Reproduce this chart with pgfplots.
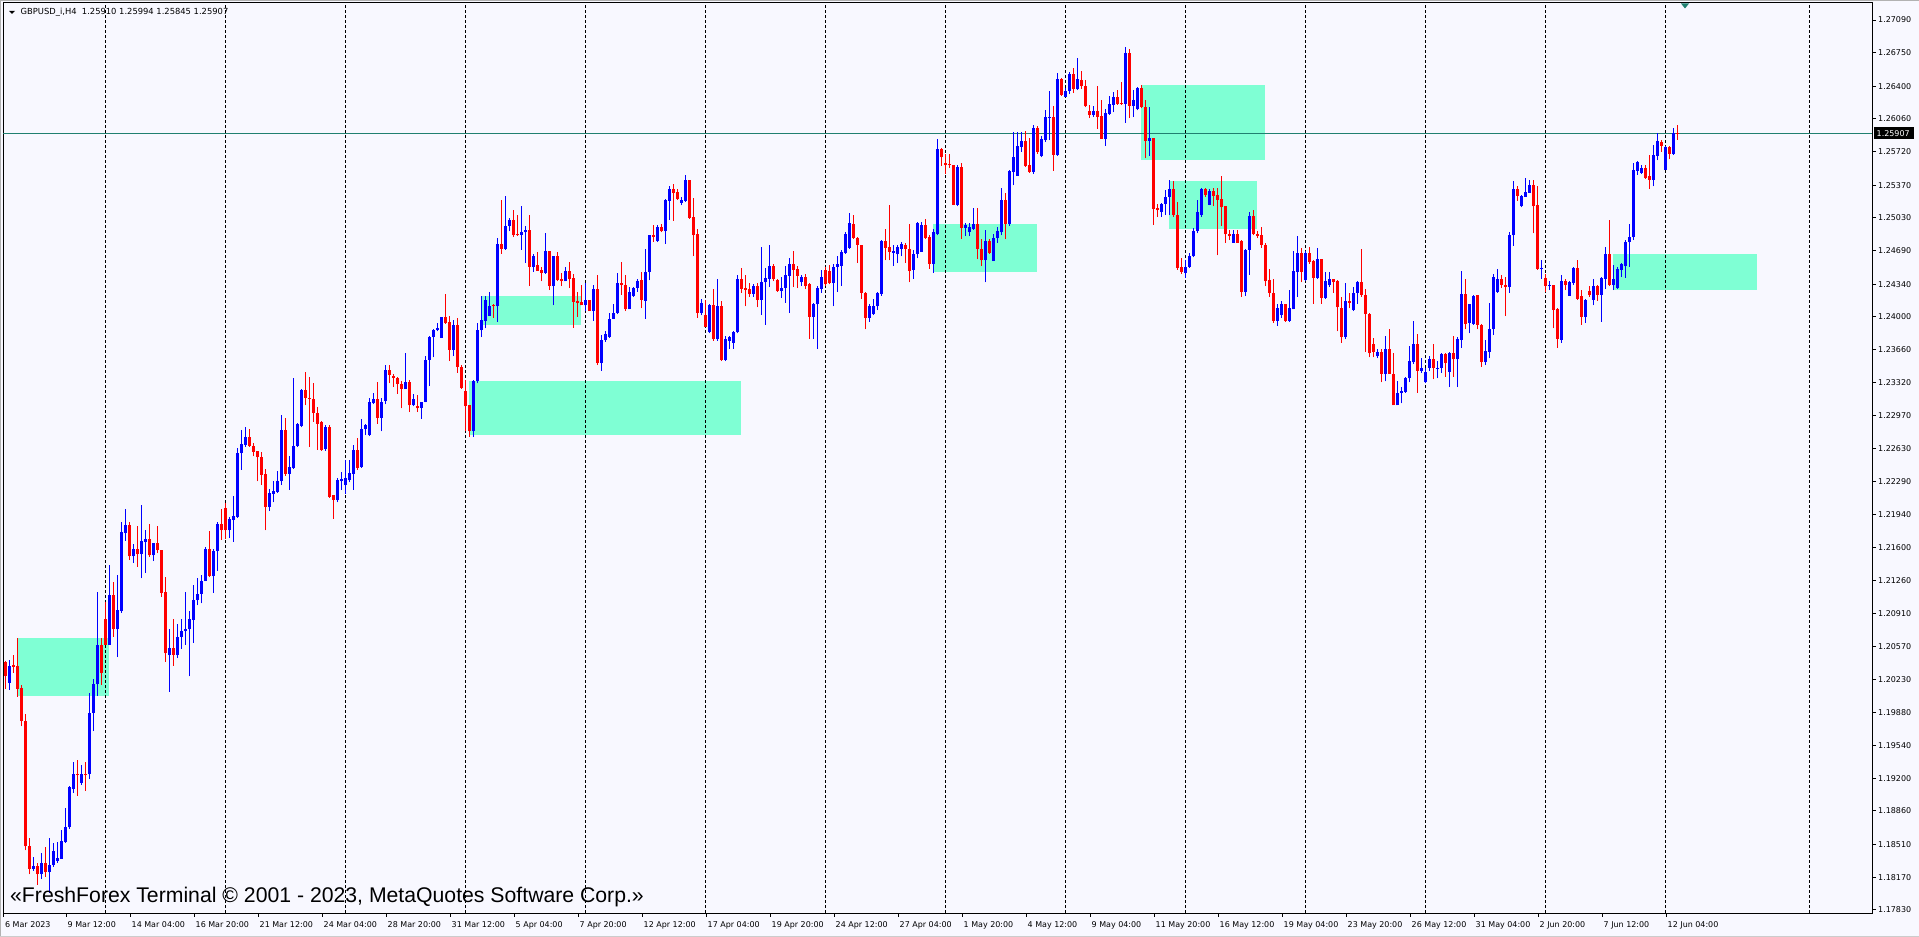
\documentclass[border=0pt]{standalone}
\usepackage{pgfplots}
\pgfplotsset{compat=1.18}
\usepackage{pgfplotstable}
\usepackage{fontspec}
\setmainfont{DejaVu Sans}
\newfontfamily\arialfont{Liberation Sans}
\definecolor{chartbg}{RGB}{248,248,255}
\definecolor{zone}{RGB}{127,255,212}
\definecolor{upc}{RGB}{0,0,255}
\definecolor{dnc}{RGB}{255,0,0}
\definecolor{pline}{RGB}{32,128,112}
\pgfplotstableread{
i o h l c
5 1.2041 1.2042 1.2013 1.2026
6 1.2019 1.2043 1.2012 1.2037
7 1.2038 1.2048 1.2030 1.2036
8 1.2037 1.2066 1.2005 1.2013
9 1.2014 1.2017 1.1974 1.1980
10 1.1980 1.1987 1.1845 1.1849
11 1.1849 1.1858 1.1820 1.1826
12 1.1826 1.1838 1.1824 1.1829
13 1.1829 1.1832 1.1809 1.1820
14 1.1820 1.1842 1.1815 1.1832
15 1.1832 1.1848 1.1817 1.1822
16 1.1822 1.1858 1.1801 1.1830
17 1.1830 1.1853 1.1828 1.1844
18 1.1834 1.1854 1.1832 1.1837
19 1.1836 1.1866 1.1836 1.1855
20 1.1854 1.1889 1.1853 1.1869
21 1.1869 1.1912 1.1867 1.1911
22 1.1909 1.1937 1.1905 1.1924
23 1.1924 1.1939 1.1902 1.1923
24 1.1915 1.1934 1.1913 1.1924
25 1.1924 1.1937 1.1907 1.1923
26 1.1924 1.2009 1.1919 1.1988
27 1.1988 1.2023 1.1969 1.2018
28 1.2018 1.2114 1.2006 1.2059
29 1.2059 1.2066 1.2017 1.2030
30 1.2086 1.2103 1.2059 1.2059
31 1.2059 1.2142 1.2059 1.2111
32 1.2111 1.2124 1.2067 1.2075
33 1.2075 1.2132 1.2046 1.2095
34 1.2094 1.2187 1.2092 1.2176
35 1.2175 1.2200 1.2167 1.2184
36 1.2184 1.2187 1.2147 1.2151
37 1.2151 1.2164 1.2144 1.2159
38 1.2159 1.2183 1.2140 1.2153
39 1.2153 1.2204 1.2128 1.2167
40 1.2166 1.2178 1.2134 1.2169
41 1.2169 1.2185 1.2150 1.2152
42 1.2152 1.2165 1.2146 1.2165
43 1.2165 1.2182 1.2154 1.2157
44 1.2157 1.2157 1.2109 1.2113
45 1.2114 1.2129 1.2041 1.2050
46 1.2048 1.2075 1.2010 1.2056
47 1.2056 1.2086 1.2037 1.2048
48 1.2048 1.2081 1.2045 1.2067
49 1.2067 1.2086 1.2055 1.2073
50 1.2073 1.2114 1.2059 1.2075
51 1.2075 1.2094 1.2026 1.2086
52 1.2085 1.2121 1.2061 1.2105
53 1.2105 1.2128 1.2100 1.2112
54 1.2112 1.2132 1.2102 1.2125
55 1.2125 1.2161 1.2125 1.2159
56 1.2159 1.2177 1.2129 1.2130
57 1.2130 1.2159 1.2113 1.2156
58 1.2156 1.2187 1.2136 1.2185
59 1.2185 1.2200 1.2168 1.2178
60 1.2201 1.2206 1.2169 1.2178
61 1.2178 1.2192 1.2170 1.2190
62 1.2189 1.2214 1.2166 1.2193
63 1.2192 1.2264 1.2191 1.2258
64 1.2258 1.2282 1.2241 1.2268
65 1.2267 1.2285 1.2265 1.2275
66 1.2275 1.2283 1.2265 1.2266
67 1.2266 1.2269 1.2255 1.2260
68 1.2261 1.2261 1.2229 1.2254
69 1.2254 1.2259 1.2225 1.2236
70 1.2237 1.2242 1.2178 1.2202
71 1.2202 1.2221 1.2198 1.2217
72 1.2216 1.2229 1.2207 1.2219
73 1.2218 1.2240 1.2217 1.2229
74 1.2229 1.2298 1.2225 1.2282
75 1.2282 1.2295 1.2235 1.2237
76 1.2237 1.2255 1.2220 1.2244
77 1.2243 1.2336 1.2242 1.2266
78 1.2266 1.2290 1.2265 1.2289
79 1.2287 1.2325 1.2285 1.2324
80 1.2324 1.2343 1.2308 1.2316
81 1.2316 1.2338 1.2265 1.2315
82 1.2315 1.2331 1.2291 1.2300
83 1.2300 1.2306 1.2262 1.2289
84 1.2291 1.2292 1.2261 1.2262
85 1.2263 1.2288 1.2261 1.2286
86 1.2286 1.2288 1.2212 1.2213
87 1.2215 1.2215 1.2190 1.2210
88 1.2210 1.2232 1.2207 1.2230
89 1.2229 1.2239 1.2220 1.2231
90 1.2225 1.2251 1.2216 1.2232
91 1.2230 1.2251 1.2228 1.2238
92 1.2237 1.2267 1.2220 1.2262
93 1.2262 1.2274 1.2241 1.2243
94 1.2244 1.2294 1.2243 1.2283
95 1.2283 1.2289 1.2277 1.2288
96 1.2277 1.2316 1.2276 1.2311
97 1.2310 1.2321 1.2309 1.2315
98 1.2315 1.2332 1.2289 1.2295
99 1.2295 1.2316 1.2281 1.2311
100 1.2313 1.2350 1.2309 1.2345
101 1.2345 1.2350 1.2331 1.2340
102 1.2339 1.2341 1.2327 1.2337
103 1.2337 1.2338 1.2320 1.2330
104 1.2330 1.2333 1.2305 1.2325
105 1.2325 1.2363 1.2325 1.2332
106 1.2332 1.2334 1.2301 1.2308
107 1.2308 1.2320 1.2307 1.2315
108 1.2307 1.2319 1.2301 1.2305
109 1.2305 1.2312 1.2294 1.2311
110 1.2312 1.2359 1.2311 1.2355
111 1.2355 1.2380 1.2328 1.2379
112 1.2379 1.2387 1.2358 1.2386
113 1.2386 1.2394 1.2385 1.2388
114 1.2378 1.2400 1.2378 1.2400
115 1.2400 1.2424 1.2393 1.2394
116 1.2395 1.2401 1.2354 1.2366
117 1.2366 1.2397 1.2359 1.2392
118 1.2392 1.2399 1.2342 1.2348
119 1.2348 1.2350 1.2325 1.2326
120 1.2323 1.2334 1.2281 1.2307
121 1.2308 1.2308 1.2275 1.2281
122 1.2281 1.2334 1.2275 1.2333
123 1.2333 1.2394 1.2331 1.2386
124 1.2386 1.2422 1.2379 1.2397
125 1.2396 1.2422 1.2388 1.2418
126 1.2401 1.2426 1.2401 1.2411
127 1.2412 1.2414 1.2399 1.2411
128 1.2411 1.2482 1.2395 1.2476
129 1.2476 1.2522 1.2466 1.2471
130 1.2471 1.2526 1.2470 1.2495
131 1.2495 1.2503 1.2489 1.2501
132 1.2501 1.2511 1.2483 1.2485
133 1.2486 1.2506 1.2484 1.2485
134 1.2485 1.2515 1.2470 1.2488
135 1.2488 1.2495 1.2456 1.2490
136 1.2490 1.2506 1.2432 1.2452
137 1.2452 1.2466 1.2447 1.2463
138 1.2454 1.2468 1.2448 1.2448
139 1.2449 1.2452 1.2437 1.2446
140 1.2446 1.2487 1.2445 1.2469
141 1.2469 1.2469 1.2428 1.2432
142 1.2432 1.2463 1.2412 1.2463
143 1.2463 1.2468 1.2437 1.2438
144 1.2439 1.2446 1.2432 1.2437
145 1.2437 1.2452 1.2437 1.2448
146 1.2448 1.2457 1.2430 1.2439
147 1.2441 1.2445 1.2389 1.2416
148 1.2417 1.2426 1.2400 1.2415
149 1.2416 1.2433 1.2412 1.2412
150 1.2412 1.2435 1.2406 1.2418
151 1.2418 1.2418 1.2406 1.2406
152 1.2406 1.2433 1.2396 1.2429
153 1.2429 1.2444 1.2350 1.2352
154 1.2352 1.2381 1.2344 1.2376
155 1.2376 1.2385 1.2374 1.2382
156 1.2379 1.2404 1.2378 1.2398
157 1.2398 1.2413 1.2398 1.2404
158 1.2404 1.2446 1.2403 1.2435
159 1.2435 1.2457 1.2423 1.2433
160 1.2433 1.2444 1.2406 1.2408
161 1.2408 1.2431 1.2408 1.2426
162 1.2422 1.2431 1.2421 1.2430
163 1.2430 1.2440 1.2426 1.2437
164 1.2438 1.2447 1.2409 1.2418
165 1.2417 1.2471 1.2398 1.2447
166 1.2447 1.2485 1.2438 1.2485
167 1.2485 1.2496 1.2478 1.2483
168 1.2479 1.2496 1.2478 1.2494
169 1.2494 1.2497 1.2488 1.2489
170 1.2489 1.2523 1.2476 1.2522
171 1.2521 1.2536 1.2501 1.2533
172 1.2533 1.2538 1.2500 1.2529
173 1.2530 1.2533 1.2522 1.2523
174 1.2519 1.2525 1.2516 1.2522
175 1.2521 1.2548 1.2520 1.2542
176 1.2542 1.2542 1.2502 1.2503
177 1.2504 1.2524 1.2463 1.2485
178 1.2486 1.2492 1.2399 1.2404
179 1.2404 1.2419 1.2402 1.2415
180 1.2402 1.2418 1.2390 1.2390
181 1.2384 1.2413 1.2383 1.2412
182 1.2412 1.2429 1.2375 1.2377
183 1.2377 1.2439 1.2375 1.2411
184 1.2411 1.2417 1.2354 1.2355
185 1.2355 1.2380 1.2354 1.2377
186 1.2375 1.2380 1.2367 1.2379
187 1.2373 1.2385 1.2367 1.2384
188 1.2384 1.2444 1.2383 1.2439
189 1.2439 1.2451 1.2425 1.2429
190 1.2430 1.2444 1.2411 1.2428
191 1.2429 1.2435 1.2421 1.2424
192 1.2424 1.2434 1.2421 1.2432
193 1.2432 1.2435 1.2410 1.2418
194 1.2418 1.2473 1.2402 1.2436
195 1.2436 1.2451 1.2392 1.2441
196 1.2440 1.2475 1.2431 1.2453
197 1.2453 1.2455 1.2437 1.2439
198 1.2438 1.2439 1.2426 1.2427
199 1.2427 1.2442 1.2420 1.2430
200 1.2430 1.2453 1.2415 1.2444
201 1.2443 1.2461 1.2404 1.2455
202 1.2455 1.2469 1.2431 1.2449
203 1.2450 1.2453 1.2430 1.2443
204 1.2436 1.2444 1.2432 1.2442
205 1.2442 1.2445 1.2429 1.2432
206 1.2434 1.2435 1.2377 1.2400
207 1.2400 1.2415 1.2377 1.2414
208 1.2413 1.2432 1.2367 1.2430
209 1.2429 1.2449 1.2425 1.2442
210 1.2449 1.2452 1.2432 1.2434
211 1.2448 1.2454 1.2434 1.2435
212 1.2435 1.2455 1.2411 1.2452
213 1.2452 1.2463 1.2426 1.2455
214 1.2453 1.2470 1.2432 1.2468
215 1.2467 1.2488 1.2466 1.2486
216 1.2472 1.2508 1.2471 1.2498
217 1.2497 1.2506 1.2481 1.2482
218 1.2482 1.2483 1.2456 1.2475
219 1.2475 1.2475 1.2419 1.2425
220 1.2425 1.2426 1.2387 1.2399
221 1.2399 1.2413 1.2395 1.2411
222 1.2403 1.2419 1.2402 1.2411
223 1.2411 1.2426 1.2407 1.2425
224 1.2424 1.2480 1.2422 1.2479
225 1.2479 1.2492 1.2459 1.2472
226 1.2473 1.2516 1.2459 1.2468
227 1.2467 1.2475 1.2453 1.2469
228 1.2465 1.2475 1.2456 1.2473
229 1.2471 1.2478 1.2463 1.2476
230 1.2475 1.2477 1.2456 1.2471
231 1.2471 1.2497 1.2436 1.2448
232 1.2449 1.2470 1.2440 1.2466
233 1.2466 1.2499 1.2461 1.2498
234 1.2468 1.2499 1.2468 1.2496
235 1.2496 1.2502 1.2481 1.2482
236 1.2483 1.2485 1.2450 1.2455
237 1.2455 1.2492 1.2446 1.2488
238 1.2486 1.2585 1.2485 1.2575
239 1.2575 1.2576 1.2557 1.2566
240 1.2560 1.2570 1.2549 1.2558
241 1.2559 1.2570 1.2555 1.2558
242 1.2558 1.2558 1.2516 1.2517
243 1.2517 1.2558 1.2515 1.2556
244 1.2556 1.2560 1.2481 1.2493
245 1.2493 1.2498 1.2484 1.2496
246 1.2488 1.2498 1.2484 1.2494
247 1.2492 1.2513 1.2491 1.2497
248 1.2497 1.2513 1.2460 1.2471
249 1.2471 1.2481 1.2453 1.2459
250 1.2459 1.2491 1.2436 1.2479
251 1.2479 1.2481 1.2466 1.2467
252 1.2458 1.2486 1.2458 1.2482
253 1.2482 1.2494 1.2477 1.2489
254 1.2488 1.2534 1.2485 1.2522
255 1.2522 1.2529 1.2481 1.2497
256 1.2497 1.2553 1.2495 1.2552
257 1.2551 1.2592 1.2537 1.2566
258 1.2547 1.2592 1.2547 1.2578
259 1.2577 1.2592 1.2572 1.2583
260 1.2583 1.2593 1.2556 1.2557
261 1.2558 1.2586 1.2550 1.2551
262 1.2551 1.2600 1.2549 1.2597
263 1.2597 1.2599 1.2570 1.2572
264 1.2567 1.2588 1.2566 1.2585
265 1.2584 1.2615 1.2582 1.2608
266 1.2607 1.2635 1.2584 1.2608
267 1.2608 1.2619 1.2552 1.2569
268 1.2569 1.2654 1.2568 1.2648
269 1.2648 1.2649 1.2630 1.2631
270 1.2629 1.2638 1.2629 1.2635
271 1.2635 1.2655 1.2632 1.2653
272 1.2653 1.2659 1.2633 1.2637
273 1.2637 1.2669 1.2636 1.2648
274 1.2647 1.2656 1.2637 1.2640
275 1.2640 1.2647 1.2618 1.2619
276 1.2614 1.2621 1.2607 1.2610
277 1.2610 1.2620 1.2608 1.2614
278 1.2614 1.2640 1.2596 1.2608
279 1.2609 1.2626 1.2585 1.2585
280 1.2585 1.2616 1.2578 1.2612
281 1.2611 1.2630 1.2610 1.2622
282 1.2621 1.2634 1.2613 1.2629
283 1.2629 1.2636 1.2621 1.2622
284 1.2623 1.2645 1.2621 1.2622
285 1.2622 1.2681 1.2602 1.2675
286 1.2675 1.2679 1.2607 1.2620
287 1.2620 1.2636 1.2608 1.2626
288 1.2616 1.2639 1.2615 1.2638
289 1.2638 1.2641 1.2617 1.2618
290 1.2618 1.2626 1.2565 1.2583
291 1.2583 1.2618 1.2568 1.2586
292 1.2586 1.2586 1.2496 1.2512
293 1.2513 1.2518 1.2504 1.2511
294 1.2509 1.2519 1.2504 1.2518
295 1.2518 1.2532 1.2506 1.2525
296 1.2525 1.2542 1.2506 1.2533
297 1.2533 1.2541 1.2504 1.2506
298 1.2506 1.2520 1.2449 1.2451
299 1.2452 1.2461 1.2445 1.2447
300 1.2446 1.2459 1.2441 1.2452
301 1.2452 1.2467 1.2451 1.2463
302 1.2463 1.2493 1.2462 1.2489
303 1.2489 1.2522 1.2487 1.2509
304 1.2506 1.2534 1.2504 1.2533
305 1.2533 1.2534 1.2525 1.2527
306 1.2517 1.2533 1.2516 1.2531
307 1.2531 1.2534 1.2515 1.2526
308 1.2527 1.2534 1.2464 1.2522
309 1.2523 1.2547 1.2495 1.2514
310 1.2515 1.2515 1.2477 1.2486
311 1.2486 1.2491 1.2480 1.2484
312 1.2477 1.2491 1.2477 1.2486
313 1.2486 1.2491 1.2477 1.2477
314 1.2479 1.2480 1.2421 1.2426
315 1.2426 1.2471 1.2422 1.2470
316 1.2470 1.2509 1.2444 1.2505
317 1.2505 1.2511 1.2485 1.2486
318 1.2486 1.2489 1.2482 1.2484
319 1.2485 1.2494 1.2472 1.2475
320 1.2475 1.2477 1.2432 1.2437
321 1.2438 1.2450 1.2421 1.2425
322 1.2425 1.2439 1.2394 1.2396
323 1.2396 1.2414 1.2391 1.2409
324 1.2402 1.2417 1.2399 1.2413
325 1.2413 1.2414 1.2395 1.2396
326 1.2396 1.2428 1.2395 1.2409
327 1.2408 1.2469 1.2408 1.2448
328 1.2447 1.2484 1.2421 1.2467
329 1.2467 1.2472 1.2436 1.2447
330 1.2438 1.2469 1.2437 1.2467
331 1.2467 1.2473 1.2455 1.2457
332 1.2458 1.2459 1.2414 1.2441
333 1.2441 1.2472 1.2440 1.2460
334 1.2460 1.2460 1.2414 1.2420
335 1.2420 1.2447 1.2419 1.2437
336 1.2433 1.2447 1.2431 1.2439
337 1.2439 1.2440 1.2425 1.2436
338 1.2437 1.2438 1.2385 1.2410
339 1.2409 1.2421 1.2373 1.2379
340 1.2379 1.2435 1.2377 1.2417
341 1.2417 1.2425 1.2409 1.2415
342 1.2407 1.2431 1.2406 1.2425
343 1.2425 1.2437 1.2414 1.2436
344 1.2436 1.2471 1.2421 1.2423
345 1.2423 1.2429 1.2364 1.2403
346 1.2403 1.2404 1.2358 1.2362
347 1.2372 1.2378 1.2358 1.2364
348 1.2359 1.2367 1.2357 1.2364
349 1.2364 1.2367 1.2332 1.2341
350 1.2341 1.2380 1.2333 1.2367
351 1.2367 1.2387 1.2341 1.2341
352 1.2341 1.2362 1.2308 1.2308
353 1.2308 1.2333 1.2308 1.2321
354 1.2321 1.2327 1.2310 1.2323
355 1.2322 1.2338 1.2321 1.2337
356 1.2336 1.2370 1.2332 1.2354
357 1.2353 1.2396 1.2351 1.2372
358 1.2372 1.2382 1.2321 1.2344
359 1.2344 1.2357 1.2342 1.2347
360 1.2332 1.2347 1.2331 1.2343
361 1.2347 1.2359 1.2344 1.2356
362 1.2356 1.2372 1.2335 1.2347
363 1.2346 1.2354 1.2336 1.2347
364 1.2347 1.2363 1.2342 1.2361
365 1.2361 1.2363 1.2338 1.2352
366 1.2343 1.2364 1.2327 1.2362
367 1.2362 1.2380 1.2338 1.2356
368 1.2356 1.2379 1.2327 1.2377
369 1.2376 1.2448 1.2368 1.2424
370 1.2424 1.2440 1.2387 1.2393
371 1.2394 1.2414 1.2383 1.2413
372 1.2393 1.2423 1.2392 1.2422
373 1.2423 1.2423 1.2387 1.2392
374 1.2392 1.2393 1.2348 1.2353
375 1.2353 1.2376 1.2350 1.2365
376 1.2364 1.2415 1.2357 1.2387
377 1.2387 1.2445 1.2381 1.2442
378 1.2426 1.2450 1.2425 1.2439
379 1.2439 1.2444 1.2430 1.2433
380 1.2433 1.2442 1.2401 1.2431
381 1.2431 1.2488 1.2425 1.2485
382 1.2485 1.2541 1.2474 1.2533
383 1.2533 1.2536 1.2521 1.2526
384 1.2515 1.2527 1.2514 1.2526
385 1.2525 1.2545 1.2525 1.2530
386 1.2529 1.2543 1.2529 1.2537
387 1.2537 1.2542 1.2487 1.2515
388 1.2516 1.2536 1.2449 1.2450
389 1.2450 1.2459 1.2440 1.2451
390 1.2441 1.2445 1.2426 1.2432
391 1.2432 1.2437 1.2428 1.2433
392 1.2433 1.2433 1.2388 1.2407
393 1.2408 1.2409 1.2368 1.2377
394 1.2376 1.2444 1.2373 1.2437
395 1.2437 1.2439 1.2428 1.2433
396 1.2422 1.2437 1.2422 1.2436
397 1.2435 1.2452 1.2433 1.2451
398 1.2451 1.2459 1.2418 1.2419
399 1.2422 1.2428 1.2392 1.2400
400 1.2400 1.2419 1.2394 1.2418
401 1.2427 1.2432 1.2421 1.2423
402 1.2418 1.2439 1.2412 1.2432
403 1.2432 1.2433 1.2417 1.2423
404 1.2423 1.2442 1.2395 1.2441
405 1.2440 1.2473 1.2429 1.2465
406 1.2465 1.2501 1.2432 1.2433
407 1.2433 1.2454 1.2428 1.2439
408 1.2430 1.2452 1.2429 1.2450
409 1.2449 1.2456 1.2442 1.2455
410 1.2453 1.2480 1.2441 1.2478
411 1.2478 1.2497 1.2452 1.2483
412 1.2483 1.2560 1.2480 1.2553
413 1.2552 1.2562 1.2548 1.2561
414 1.2550 1.2558 1.2549 1.2555
415 1.2555 1.2558 1.2544 1.2545
416 1.2547 1.2569 1.2533 1.2543
417 1.2543 1.2579 1.2536 1.2569
418 1.2568 1.2591 1.2563 1.2583
419 1.2582 1.2584 1.2572 1.2578
420 1.2553 1.2578 1.2553 1.2577
421 1.2577 1.2578 1.2564 1.2570
422 1.2570 1.2597 1.2569 1.2591
423 1.25910 1.25994 1.25845 1.25907
}\candles
\pgfplotsset{chartgeom/.style={
  scale only axis, width=1869bp, height=910bp,
  at={(3bp,24bp)}, anchor=south west,
  xmin=4.5, xmax=471.75, ymin=1.17798, ymax=1.27267}}
\begin{document}
\begin{tikzpicture}
\fill[chartbg] (0,0) rectangle (1919bp,937bp);
% background axis: zones
\begin{axis}[chartgeom, hide axis]
\addplot[fill=zone, draw=none] coordinates {(8.0,1.2006) (31.0,1.2006) (31.0,1.2066) (8.0,1.2066)};
\addplot[fill=zone, draw=none] coordinates {(124.2,1.2392) (149,1.2392) (149,1.2422) (124.2,1.2422)};
\addplot[fill=zone, draw=none] coordinates {(121,1.2277) (188.9,1.2277) (188.9,1.2333) (121,1.2333)};
\addplot[fill=zone, draw=none] coordinates {(237.1,1.2447) (262.9,1.2447) (262.9,1.2497) (237.1,1.2497)};
\addplot[fill=zone, draw=none] coordinates {(289,1.2563) (320,1.2563) (320,1.2641) (289,1.2641)};
\addplot[fill=zone, draw=none] coordinates {(296,1.2492) (318,1.2492) (318,1.2541) (296,1.2541)};
\addplot[fill=zone, draw=none] coordinates {(406.9,1.2428) (443,1.2428) (443,1.2465) (406.9,1.2465)};
\end{axis}
% main axis
\begin{axis}[chartgeom,
  axis line style={black, line width=1bp},
  tick style={black, line width=1bp},
  tick align=outside, major tick length=4bp,
  xtick pos=bottom, ytick pos=right, yticklabel pos=right,
  ytick={1.17830,1.18170,1.18510,1.18860,1.19200,1.19540,1.19880,1.20230,1.20570,1.20910,1.21260,1.21600,1.21940,1.22290,1.22630,1.22970,1.23320,1.23660,1.24000,1.24340,1.24690,1.25030,1.25370,1.25720,1.26060,1.26400,1.26750,1.27090},
  yticklabels={1.17830,1.18170,1.18510,1.18860,1.19200,1.19540,1.19880,1.20230,1.20570,1.20910,1.21260,1.21600,1.21940,1.22290,1.22630,1.22970,1.23320,1.23660,1.24000,1.24340,1.24690,1.25030,1.25370,1.25720,1.26060,1.26400,1.26750,1.27090},
  yticklabel style={anchor=west, inner sep=0pt, xshift=2bp, font=\fontsize{8}{9}\selectfont},
  xtick={4.6,20.25,36.25,52.25,68.25,84.25,100.25,116.25,132.25,148.25,164.25,180.25,196.25,212.25,228.25,244.25,260.25,276.25,292.25,308.25,324.25,340.25,356.25,372.25,388.25,404.25,420.25},
  xticklabels={6 Mar 2023,9 Mar 12:00,14 Mar 04:00,16 Mar 20:00,21 Mar 12:00,24 Mar 04:00,28 Mar 20:00,31 Mar 12:00,5 Apr 04:00,7 Apr 20:00,12 Apr 12:00,17 Apr 04:00,19 Apr 20:00,24 Apr 12:00,27 Apr 04:00,1 May 20:00,4 May 12:00,9 May 04:00,11 May 20:00,16 May 12:00,19 May 04:00,23 May 20:00,26 May 12:00,31 May 04:00,2 Jun 20:00,7 Jun 12:00,12 Jun 04:00},
  xticklabel style={anchor=north west, inner sep=0pt, xshift=1.5bp, yshift=-4.5bp, font=\fontsize{8}{9}\selectfont},
  extra x ticks={30,60,90,120,150,180,210,240,270,300,330,360,390,420,456},
  extra x tick labels={},
  extra x tick style={grid=major, major tick length=0pt},
  major grid style={black, line width=1bp, dash pattern=on 3bp off 2bp},
  unbounded coords=discard,
]
% current price line
\addplot[pline, line width=1bp] coordinates {(4.5,1.25907) (471.75,1.25907)};
% up candles
\addplot[upc, line width=1bp, quiver={u=0, v=\thisrow{h}-\thisrow{l}}, restrict expr to domain={\thisrow{c}-\thisrow{o}}{0:1}] table[x=i, y=l] {\candles};
\addplot[upc, line width=3bp, quiver={u=0, v=\thisrow{c}-\thisrow{o}}, restrict expr to domain={\thisrow{c}-\thisrow{o}}{0:1}] table[x=i, y=o] {\candles};
% down candles
\addplot[dnc, line width=1bp, quiver={u=0, v=\thisrow{h}-\thisrow{l}}, restrict expr to domain={\thisrow{c}-\thisrow{o}}{-1:-0.00001}] table[x=i, y=l] {\candles};
\addplot[dnc, line width=3bp, quiver={u=0, v=\thisrow{o}-\thisrow{c}}, restrict expr to domain={\thisrow{c}-\thisrow{o}}{-1:-0.00001}] table[x=i, y=c] {\candles};
\end{axis}
% header
\fill[black] (9bp,926bp) -- (15bp,926bp) -- (12bp,923bp) -- cycle;
\node[anchor=base west, inner sep=0pt, font=\fontsize{8.4}{9}\selectfont] at (20.5bp,922.6bp) {GBPUSD\_i,H4\ \ 1.25910 1.25994 1.25845 1.25907};
% copyright
\node[anchor=base west, inner sep=0pt, font=\arialfont\fontsize{21.3}{24}\selectfont] at (10bp,35bp) {«FreshForex Terminal © 2001 - 2023, MetaQuotes Software Corp.»};
% price label
\fill[black] (1874bp,798bp) rectangle (1914bp,809.5bp);
\node[anchor=west, inner sep=0pt, text=white, font=\fontsize{8}{9}\selectfont] at (1876.5bp,803.7bp) {1.25907};
% shift marker
\fill[pline] (1681bp,933.5bp) -- (1689bp,933.5bp) -- (1685bp,928.5bp) -- cycle;
% outer borders
\draw[gray!60, line width=1bp] (0.5bp,0) -- (0.5bp,937bp);
\draw[gray!60, line width=1bp] (0,936.5bp) -- (1919bp,936.5bp);
\draw[gray!40, line width=1bp] (0,1bp) -- (1919bp,1bp);
\pgfresetboundingbox
\useasboundingbox (0,0) rectangle (1919bp,937bp);
\end{tikzpicture}
\end{document}
